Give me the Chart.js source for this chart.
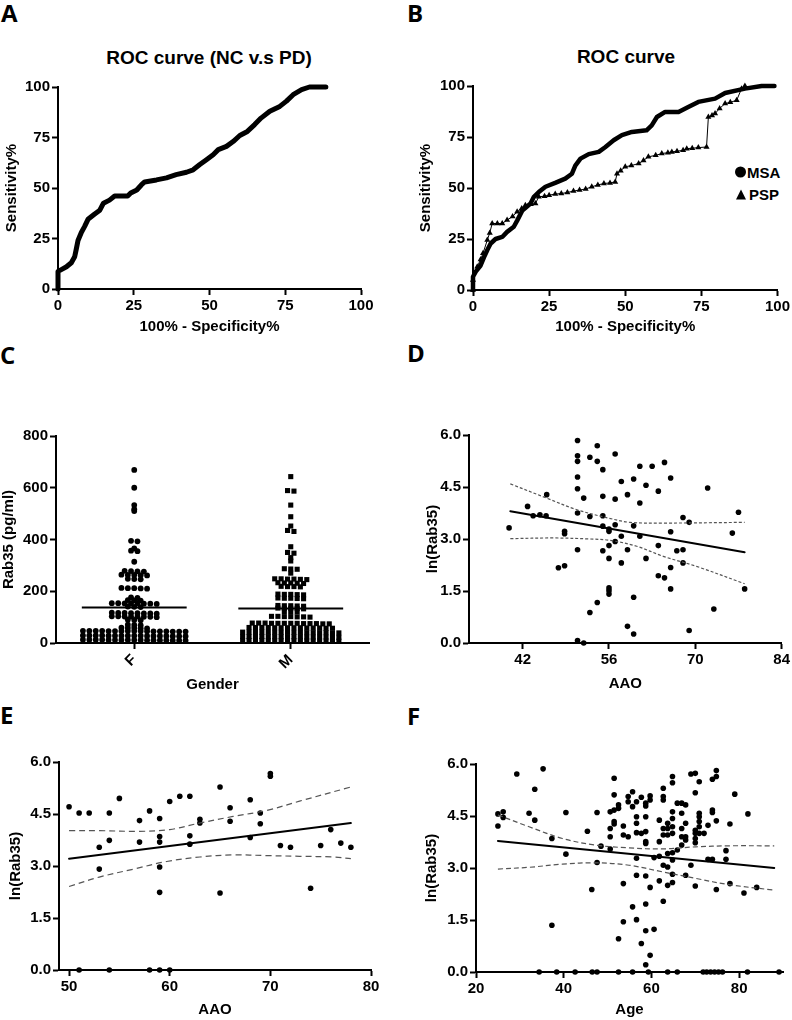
<!DOCTYPE html>
<html>
<head>
<meta charset="utf-8">
<script src="https://cdn.jsdelivr.net/npm/chart.js@4.4.1/dist/chart.umd.min.js"></script>
<style>
  body { margin: 0; width: 792px; height: 1020px; background: #fff; position: relative; overflow: hidden;
         font-family: "Liberation Sans", Arial, sans-serif; color: #000; }
  canvas { position: absolute; }
  .letter { position: absolute; font: bold 24px/24px "Open Sans", sans-serif; }
  .title { position: absolute; font: bold 19px/19px "Liberation Sans", Arial, sans-serif;
           transform: translate(-50%, -50%); white-space: nowrap; }
  .legend { position: absolute; font: bold 15px/15px "Liberation Sans", Arial, sans-serif; white-space: nowrap;
            transform: translateY(-50%); display: flex; align-items: center; }
  .dot { display: inline-block; width: 11px; height: 11px; border-radius: 50%; background: #000; margin-right: 1px; }
  .tri { display: inline-block; width: 0; height: 0; border-left: 5px solid transparent;
         border-right: 5px solid transparent; border-bottom: 10px solid #000; margin-right: 3px; }
</style>
</head>
<body>

<div class="letter" style="left:1px;top:1px">A</div>
<div class="letter" style="left:407px;top:1px">B</div>
<div class="letter" style="left:0px;top:343px">C</div>
<div class="letter" style="left:407px;top:341px">D</div>
<div class="letter" style="left:0px;top:703px">E</div>
<div class="letter" style="left:407px;top:704px">F</div>

<div class="title" style="left:209px;top:57px">ROC curve (NC v.s PD)</div>
<div class="title" style="left:626px;top:56px">ROC curve</div>

<div class="legend" style="left:735px;top:172px"><span class="dot"></span>MSA</div>
<div class="legend" style="left:736px;top:194px"><span class="tri"></span>PSP</div>

<script>
/* ================= DATA ================= */

// A: ROC curve NC v.s PD
const rocPdX = [0,0,1.1,2.8,4.4,5.5,6,6.6,7.7,8.8, 9.9,12,13.8,15,17,18.7,23,24,26,27.5,
  28.6,32.5,35.8,39,42.4,44.6,46.8,49,51.2,52.9, 55.6,57.8,60,62.5,64.9,67,69.9,73.2,75.4,77.6,
  80.4,83,88.4];
const rocPdY = [0,8.7,9.6,11,13,16,19.5,24,28,31, 34.5,37,39,42.5,44,46,46,47.5,49,51.5,
  53,54,55,56.6,57.8,59,61.6,64,66.5,69, 70.6,73,76,78,81.4,84.6,88,90.4,93,96.2,
  98.7,100,100];

// B: ROC curve MSA / PSP
const rocMsaX = [0,0,0.9,2.5,3.6,4.7,5.8,7.4,9.6,11.2, 13.4,14.5,16.2,18.9,20,21.6,23.8,27,30.3,32.5,
  33.6,35.3,38,41.3,43.4,46.2,48.9,52.2,57,58.7, 60.4,63.1,67.5,70.7,74,79.5,82.8,89.3,94.8,99];
const rocMsaY = [0,6.5,9,12,16,19.6,22.8,25,26,28.5, 31,34,39,42.4,45.7,48,50.6,52.5,54.6,57,
  61,64.4,66.6,67.7,70,73.4,75.9,77.5,78.3,80.7, 84.8,87.3,87.3,89.7,92.2,93.8,96.6,98.7,100,100];
const rocPspX = [0,0,1.4,2.5,3.3,4.7,5.5,6.3,8,9.6, 11.2,13,14.5,16,17.2,19,20.5,21.6,23.5,25,
  27,29,31,33,35,37,39,41,43,45, 46.7,47.3,48.5,50,52,54.4,56,57.6,60,62,
  64,65.3,67,69,70.2,72,74,76.7,77.3,78.5, 79.5,81,82.8,84.5,86.6,88.2,89.3];
const rocPspY = [0,4.9,11.4,15,18,24.5,28,32.6,32.6,32.6, 34.3,36,38.3,40,41.6,42,42.4,45.7,46,46.5,
  47,47.3,47.8,48.5,49,49.5,50.6,51.5,52.2,52.5, 53,57,58.5,60.4,61,62,63.5,65.3,66,66.9,
  67.3,67.7,68,68.5,69.3,69.5,69.8,70.1,84.8,85.5, 86.5,89,91.4,92,93,98.7,100];

// C: Rab35 by gender
const genderLabels = ['F', 'M'];
const rabFemale = [669,600,533,517,510,395,393,366,357,355,314,
  279,278,277,276, 264,263,262,263,261, 248,247,246, 213,212,211,212,210,
  176,174, 166,165,164, 154,153,152,153,151,154,152,153, 141,140,139,
  116,115,114,116,113,115,114,117, 103,102,101,102,100,103,101,102,
  90,89,88, 71,70,69, 59,58,57,58,56,
  47,46,45,46,44,47,46,45,46,47,45,44,46,47,45,46,44,
  29,28,27,28,26,29,28,27,28,29,27,26,28,29,27,28,26,
  13,12,11,12,10,13,12,11,12,13,11,10,12,13,11,12,10];
const rabMale = [643,589,587,533,488,452,435,431,372,350,347,330,317,
  287,286,285,270, 248,247,246,247,245,248, 233,232,231,232,230, 219,218,217,218,
  189,188,187,188,186, 174,173,172,173,171, 145,144,143,144,142, 135,134,133,134,132,
  122,121,120, 103,102,101,102,100,103,101,
  77,76,75,76,74,77,76,75,76,77,75,74,76,
  60,59,58,59,57,60,59,58,59,60,58,57,59,60,
  42,41,40,41,39,42,41,40,41,42,40,39,41,42,40,41,
  25,24,23,24,22,25,24,23,24,25,23,22,24,25,23,24,
  10,9,8,9,7,10,9,8,9,10,8,7,9,10,8,9];
const rabMeans = [137, 133];

// D: ln(Rab35) vs AAO
const dAao = [39.8,42.8,43.7,44.8,45.8,45.9,47.8,48.8,48.8,48.8,
  50.9,50.9,50.9,50.9,50.9,50.9,50.9,50.9,51.9,51.9,
  52.9,52.9,52.9,54.1,54.1,54.1,55,55,55,55,
  55,56,56,56,56,56,56,56,57,57,
  57,57,58,58,58,59,59,59,60,60,
  60,60,61,61,61,62,62,63,64,64,
  64,65,65,66,66,66,66,67,68,68,
  68,69,69,72,73,76,77,78];
const dLn = [3.32,3.94,3.67,3.70,3.67,4.28,2.17,2.23,3.22,3.15,
  5.84,5.40,5.24,4.79,4.45,3.75,2.69,0.07,0.0,4.18,
  5.36,0.88,3.65,5.69,5.24,1.17,5.0,4.23,3.67,3.37,
  2.66,3.29,3.22,2.81,2.44,1.59,1.51,1.41,5.45,4.15,
  3.41,2.93,3.08,4.66,2.31,4.28,2.69,0.48,4.73,3.38,
  1.32,0.26,5.10,4.04,3.08,4.55,2.44,5.10,4.38,2.81,
  1.94,5.21,1.88,4.76,3.21,2.18,1.56,2.66,3.62,2.69,
  2.31,3.48,0.36,4.47,0.98,3.17,3.77,1.56];
const dFitX = [40, 78];
const dFitY = [3.80, 2.62];
const dUpperX = [40, 45.9, 50.7, 56, 59.4, 64.8, 78];
const dUpperY = [4.59, 4.18, 3.85, 3.60, 3.48, 3.46, 3.48];
const dLowerX = [40, 47, 52.9, 56.2, 60.5, 64.8, 70.2, 78];
const dLowerY = [3.01, 3.03, 3.00, 2.96, 2.79, 2.50, 2.21, 1.71];

// E: ln(Rab35) vs AAO
const eAao = [50,51,51,52,53,53,54,54,54,55, 57,57,58,58,59,59,59,59,59,59,
  60,60,61,62,62,62,63,63,65,65, 66,66,68,68,69,69,70,70,71,72, 74,75,76,77,78];
const eLn = [4.71,4.53,0,4.53,3.54,2.91,4.53,3.74,0,4.95, 4.31,3.69,4.59,0,4.37,3.85,3.69,2.97,2.24,0,
  4.86,0,5.01,5.01,3.87,3.63,4.35,4.24,5.28,2.22, 4.68,4.29,4.91,3.82,4.53,4.22,5.67,5.59,3.59,3.54,
  2.36,3.59,4.05,3.66,3.54];
const eFitX = [50, 78];
const eFitY = [3.21, 4.24];
const eUpperX = [50, 53, 57, 60, 63, 66.3, 69.6, 72.9, 78];
const eUpperY = [4.02, 4.02, 4.00, 4.05, 4.24, 4.43, 4.60, 4.87, 5.28];
const eLowerX = [50, 53, 56.4, 59.7, 63, 66.3, 69.6, 72.9, 76.2, 78];
const eLowerY = [2.41, 2.68, 2.91, 3.13, 3.26, 3.32, 3.30, 3.28, 3.26, 3.21];

// F: ln(Rab35) vs Age
const fAge = [25,25,26.2,26.2,29.3,32.1,33.4,33.4,35.3,37.3,
  37.3,40.5,40.5,45.4,46.4,47.6,47.6,48.5,50.6,50.6,
  50.6,50.6,51.5,51.5,51.5,51.5,51.5,52.5,52.5,52.5,
  53.6,53.6,53.6,53.6,54.7,54.7,54.7,55.7,55.7,55.7,
  56.6,56.6,56.6,56.6,56.6,56.6,56.6,57.7,57.7,57.7,
  58.7,58.7,58.7,58.7,58.7,58.7,58.7,58.7,58.7,58.7,
  59.7,59.7,59.7,59.7,60.6,60.6,61.8,61.8,61.8,61.8,
  62.7,62.7,62.7,62.7,62.7,62.7,62.7,63.7,63.7,63.7,
  63.7,63.7,63.7,64.8,64.8,64.8,64.8,64.8,64.8,64.8,
  64.8,64.8,64.8,65.9,65.9,66.9,66.9,66.9,66.9,66.9,
  67.8,67.8,67.8,67.8,67.8,69,69,70,70,70,
  70,70,70,70,70.9,70.9,70.9,70.9,70.9,70.9,
  72,72.9,72.9,73.9,73.9,73.9,73.9,74.8,74.8,74.8,
  74.8,77,77,77.9,77.9,79,81.1,82,84,
  34.4,38.4,42.6,46.5,47.6,52.5,55.7,59.3,63.7,65.9,
  71.8,72.6,73.5,74.4,75.3,76.2,81.9,89.1];
const fLn = [4.56,4.21,4.62,4.46,5.71,4.58,5.27,4.38,5.86,3.85,
  1.35,4.60,3.40,4.06,2.38,4.60,3.16,3.63,4.62,4.14,
  3.90,3.55,5.59,5.11,4.67,4.34,4.27,4.82,4.72,0.96,
  4.21,3.95,2.55,1.45,5.06,4.91,3.90,5.20,4.77,1.88,
  4.91,4.48,4.29,4.02,3.28,2.79,1.51,5.04,4.00,0.82,
  4.87,4.79,4.48,4.05,3.76,3.71,2.77,1.96,1.19,0.21,
  5.08,4.96,2.44,0.48,3.30,1.23,3.76,4.38,2.63,3.34,
  5.30,5.06,4.96,4.14,3.95,3.08,2.04,4.29,4.14,3.95,
  3.42,3.03,2.50,5.64,5.46,4.62,4.43,4.19,4.00,3.44,
  3.23,2.82,2.58,4.87,3.52,4.87,4.58,4.14,3.90,3.66,
  4.82,4.29,3.90,3.81,2.79,3.08,5.71,5.73,5.17,4.09,
  4.00,3.85,3.73,2.48,4.58,4.48,4.34,4.19,4.00,5.49,
  4.00,4.23,3.25,5.56,4.67,4.60,3.25,5.64,5.81,4.36,
  2.38,3.50,3.25,4.27,2.55,5.13,2.28,4.56,2.44,
  0,0,0,0,0,0,0,0,0,0,
  0,0,0,0,0,0,0,0];
const fFitX = [25, 88];
const fFitY = [3.78, 3.00];
const fBandX = [25, 32.1, 39.7, 47.3, 54.9, 62.5, 70.1, 77.7, 88];
const fUpperY = [4.53, 4.19, 3.85, 3.66, 3.58, 3.55, 3.61, 3.64, 3.64];
const fLowerY = [2.97, 3.02, 3.11, 3.15, 3.08, 2.89, 2.70, 2.52, 2.36];

// tick values
const rocTicks = [0, 25, 50, 75, 100];
const rabTicks = [0, 200, 400, 600, 800];
const lnTicks = [0, 1.5, 3, 4.5, 6];
const dTicks = [42, 56, 70, 84];
const eTicks = [50, 60, 70, 80];
const fTicks = [20, 40, 60, 80];

/* ================= LAYOUT ================= */

// canvas box and target plot area [left, top, right, bottom] in page pixels
const geo = {
  A: { left: 0,   top: 75,  width: 385, height: 265, area: [58, 87, 361, 289] },
  B: { left: 396, top: 74,  width: 396, height: 266, area: [473, 86, 779, 290] },
  C: { left: 0,   top: 424, width: 385, height: 271, area: [56, 436, 369, 643] },
  D: { left: 396, top: 423, width: 396, height: 272, area: [469, 435, 782, 643] },
  E: { left: 0,   top: 750, width: 385, height: 270, area: [59, 762, 371, 970] },
  F: { left: 396, top: 752, width: 396, height: 268, area: [476, 764, 783, 972] }
};

Chart.defaults.font.family = '"Liberation Sans", Arial, sans-serif';
Chart.defaults.font.weight = 'bold';
Chart.defaults.color = '#000';

/* ================= HELPERS ================= */

const pts = (xs, ys) => xs.map((x, i) => ({ x, y: ys[i] }));

function axis(min, max, tickVals, fmt, title, titlePad) {
  return {
    type: 'linear', min, max,
    afterBuildTicks: s => { s.ticks = tickVals.map(v => ({ value: v })); },
    border: { display: true, color: '#000', width: 2 },
    grid: { display: true, drawOnChartArea: false, drawTicks: true, tickLength: 6, tickWidth: 2, tickColor: '#000' },
    ticks: { color: '#000', font: { size: 15, weight: 'bold' }, padding: 2, autoSkip: false,
             maxRotation: 0, minRotation: 0, callback: fmt },
    title: { display: true, text: title, color: '#000', font: { size: 15, weight: 'bold' }, padding: titlePad }
  };
}

function makePanel(key, xScale, yScale, datasets) {
  const g = geo[key];
  const [cl, ct, cr, cb] = g.area;
  const canvas = document.createElement('canvas');
  canvas.width = g.width;
  canvas.height = g.height;
  canvas.style.left = g.left + 'px';
  canvas.style.top = g.top + 'px';
  document.body.appendChild(canvas);

  xScale.afterFit = s => { s.height = g.top + g.height - cb; };
  yScale.afterFit = s => { s.width = cl - g.left; };

  return new Chart(canvas.getContext('2d'), {
    type: 'scatter',
    data: { datasets },
    options: {
      responsive: false, animation: false, devicePixelRatio: 1,
      layout: { padding: { left: 0, top: ct - g.top, right: g.left + g.width - cr, bottom: 0 } },
      plugins: { legend: { display: false }, tooltip: { enabled: false } },
      scales: { x: xScale, y: yScale }
    }
  });
}

function lineSet(xs, ys, width, extra) {
  return Object.assign({
    data: pts(xs, ys), showLine: true, borderColor: '#000', borderWidth: width,
    pointRadius: 0, clip: false, borderJoinStyle: 'round', borderCapStyle: 'round'
  }, extra || {});
}

function dotSet(xs, ys) {
  return { data: pts(xs, ys), showLine: false, pointRadius: 2.8, pointBorderWidth: 0,
           pointBackgroundColor: '#000', clip: false };
}

function bandSet(xs, ys, dash) {
  return lineSet(xs, ys, 1.2, { borderColor: '#555', borderDash: dash, tension: 0.35, borderCapStyle: 'butt' });
}

// column scatter: values close together share a row and are spread sideways around the column centre
function swarm(values, center, band, step) {
  const sorted = values.slice().sort((a, b) => b - a);
  const rows = [];
  sorted.forEach(v => {
    const row = rows[rows.length - 1];
    if (row && row[0] - v <= band) row.push(v);
    else rows.push([v]);
  });
  const out = [];
  rows.forEach(list => {
    list.forEach((v, i) => out.push({ x: center + (i - (list.length - 1) / 2) * step, y: v }));
  });
  return out;
}

const fmt1 = v => v.toFixed(1);
const fmt0 = v => String(v);

/* ================= A ================= */

makePanel('A',
  axis(0, 100, rocTicks, fmt0, '100% - Specificity%', { top: 0, bottom: 4 }),
  axis(0, 100, rocTicks, fmt0, 'Sensitivity%', { top: 3, bottom: 0 }),
  [lineSet(rocPdX, rocPdY, 5)]
);

/* ================= B ================= */

makePanel('B',
  axis(0, 100, rocTicks, fmt0, '100% - Specificity%', { top: 0, bottom: 4 }),
  axis(0, 100, rocTicks, fmt0, 'Sensitivity%', { top: 21, bottom: 0 }),
  [
    lineSet(rocPspX, rocPspY, 1, { pointRadius: 3.5, pointStyle: 'triangle', pointBackgroundColor: '#000',
                                    pointBorderWidth: 0 }),
    lineSet(rocMsaX, rocMsaY, 4.5)
  ]
);

/* ================= C ================= */

const cX = axis(0.5, 2.5, [1, 2], (v, i) => genderLabels[i], 'Gender', { top: 0, bottom: 1 });
cX.ticks.minRotation = 45;
cX.ticks.maxRotation = 45;
const colStep = 0.041;
const meanHalf = 0.335;

makePanel('C',
  cX,
  axis(0, 800, rabTicks, fmt0, 'Rab35 (pg/ml)', { top: 0, bottom: 0 }),
  [
    lineSet([1 - meanHalf, 1 + meanHalf], [rabMeans[0], rabMeans[0]], 2, { borderCapStyle: 'butt' }),
    lineSet([2 - meanHalf, 2 + meanHalf], [rabMeans[1], rabMeans[1]], 2, { borderCapStyle: 'butt' }),
    { data: swarm(rabFemale, 1, 5, colStep), pointRadius: 2.9, pointBorderWidth: 0,
      pointBackgroundColor: '#000', clip: false },
    { data: swarm(rabMale, 2, 5, colStep), pointRadius: 3.6, pointStyle: 'rect', pointBorderWidth: 0,
      pointBackgroundColor: '#000', clip: false }
  ]
);

/* ================= D ================= */

makePanel('D',
  axis(33.3, 84, dTicks, fmt0, 'AAO', { top: 0, bottom: 2 }),
  axis(0, 6, lnTicks, fmt1, 'ln(Rab35)', { top: 28, bottom: 0 }),
  [
    lineSet(dFitX, dFitY, 2),
    bandSet(dUpperX, dUpperY, [3, 2]),
    bandSet(dLowerX, dLowerY, [3, 2]),
    dotSet(dAao, dLn)
  ]
);

/* ================= E ================= */

makePanel('E',
  axis(49, 80, eTicks, fmt0, 'AAO', { top: 0, bottom: 1 }),
  axis(0, 6, lnTicks, fmt1, 'ln(Rab35)', { top: 7, bottom: 0 }),
  [
    lineSet(eFitX, eFitY, 2),
    bandSet(eUpperX, eUpperY, [6, 4]),
    bandSet(eLowerX, eLowerY, [6, 4]),
    dotSet(eAao, eLn)
  ]
);

/* ================= F ================= */

makePanel('F',
  axis(20, 90, fTicks, fmt0, 'Age', { top: 0, bottom: 1 }),
  axis(0, 6, lnTicks, fmt1, 'ln(Rab35)', { top: 27, bottom: 0 }),
  [
    lineSet(fFitX, fFitY, 2),
    bandSet(fBandX, fUpperY, [5, 3]),
    bandSet(fBandX, fLowerY, [5, 3]),
    dotSet(fAge, fLn)
  ]
);
</script>
</body>
</html>
